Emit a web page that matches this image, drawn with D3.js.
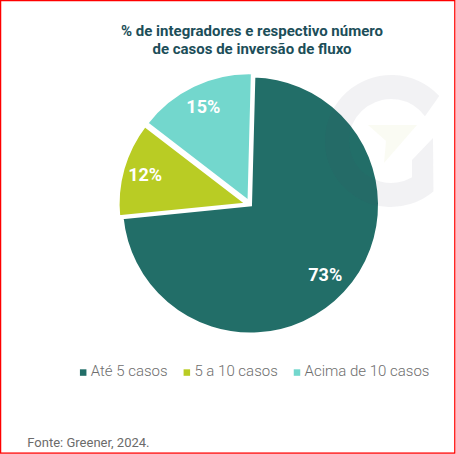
<!DOCTYPE html>
<html>
<head>
<meta charset="utf-8">
<script src="https://cdn.jsdelivr.net/npm/d3@7"></script>
<style>
html,body{margin:0;padding:0;background:#fff;}
svg{display:block;}
text{font-family:Roboto,"Noto Sans",sans-serif;}
</style>
</head>
<body>
<svg id="chart" width="456" height="454"></svg>
<script>
// ---- data ----
const categories = ["Até 5 casos", "5 a 10 casos", "Acima de 10 casos"];
const values = [73, 12, 15];
const valueLabels = ["73%", "12%", "15%"];
const colors = ["#226e68", "#b9cc24", "#73d7cd"];
const titleLines = ["% de integradores e respectivo número", "de casos de inversão de fluxo"];
const sourceText = "Fonte: Greener, 2024.";

const svg = d3.select("#chart");

// border
svg.append("rect").attr("x", 0.6).attr("y", 0.6).attr("width", 454.2).attr("height", 452.5)
  .attr("fill", "#fff").attr("stroke", "#ff0000").attr("stroke-width", 1.3);

// title
svg.append("text").attr("x", 252).attr("y", 36).attr("text-anchor", "middle")
  .attr("font-size", 15).attr("font-weight", 700).attr("fill", "#1c4e59")
  .selectAll("tspan").data(titleLines).join("tspan")
  .attr("x", 252).attr("dy", (d, i) => i === 0 ? 0 : 17.5).text(d => d);

// pie
const cx = 250.5, cy = 205, R = 129;
const rot = 1.5 * Math.PI / 180;
const explodeSmall = 3.5;
const pie = d3.pie().sort(null).value(d => d).startAngle(rot).endAngle(2 * Math.PI + rot);
const arcs = pie(values);
const arc = d3.arc().innerRadius(0).outerRadius(R);
const isMain = (i) => i === 0;
const labelArcMain = d3.arc().innerRadius(102).outerRadius(102);
const labelArcSmall = d3.arc().innerRadius(106).outerRadius(106);

const g = svg.append("g").attr("transform", `translate(${cx},${cy})`);
const slice = g.selectAll("g.slice").data(arcs).join("g").attr("class", "slice")
  .attr("transform", (d, i) => {
    const a = (d.startAngle + d.endAngle) / 2;
    const e = isMain(i) ? 0 : explodeSmall;
    return `translate(${Math.sin(a) * e},${-Math.cos(a) * e})`;
  });
slice.append("path").attr("d", arc).attr("fill", (d, i) => colors[i])
  .attr("stroke", "#fff").attr("stroke-width", 3).attr("stroke-linejoin", "miter");
slice.append("text")
  .attr("transform", (d, i) => `translate(${(isMain(i) ? labelArcMain : labelArcSmall).centroid(d)})`)
  .attr("text-anchor", "middle").attr("dy", "0.36em")
  .attr("font-size", 18).attr("font-weight", 700).attr("fill", "#fff")
  .text((d, i) => valueLabels[i]);

// watermark "G"
const wm = svg.append("g").attr("transform", "translate(391,141)")
  .attr("fill", "rgb(70,76,98)").attr("fill-opacity", 0.07);
const ro = 66, ri = 42;
const a0 = -Math.PI / 2 + 47 * Math.PI / 180;
const a1 = Math.PI / 2 - 40 * Math.PI / 180;
wm.append("path").attr("d", (() => {
  const p = d3.path();
  p.moveTo(Math.cos(a0) * ro, Math.sin(a0) * ro);
  p.arc(0, 0, ro, a0, a1, true);
  p.lineTo(42, -3);
  p.lineTo(21, 19);
  p.lineTo(21, 36);
  p.arc(0, 0, ri, Math.atan2(36, 21), a0 + 0.12, false);
  p.closePath();
  return p.toString();
})());
svg.append("path")
  .attr("d", "M368,125 L417,125 L384,163 L386,141 Z")
  .attr("fill", "rgb(200,210,120)").attr("fill-opacity", 0.09);

// legend
const legY = 376;
const leg = svg.append("g");
const items = leg.selectAll("g").data(categories).join("g");
items.append("rect").attr("width", 6.5).attr("height", 6.5).attr("y", legY - 6.7)
  .attr("fill", (d, i) => colors[i]);
const legTexts = items.append("text").attr("y", legY).attr("font-size", 15)
  .attr("font-weight", 300).attr("fill", "#6e6e6e").text(d => d);
const widths = legTexts.nodes().map(n => n.getComputedTextLength());
const sqGap = 4.3, itemGap = 16, sq = 6.5;
const total = widths.reduce((s, w) => s + sq + sqGap + w, 0) + itemGap * (categories.length - 1);
let xPos = 254.7 - total / 2;
items.each(function (d, i) {
  d3.select(this).attr("transform", `translate(${xPos},0)`);
  d3.select(this).select("text").attr("x", sq + sqGap);
  xPos += sq + sqGap + widths[i] + itemGap;
});

// source
svg.append("text").attr("x", 27.3).attr("y", 446.7).attr("font-size", 13)
  .attr("font-weight", 400).attr("fill", "#6b6b6b").text(sourceText);
</script>
</body>
</html>
